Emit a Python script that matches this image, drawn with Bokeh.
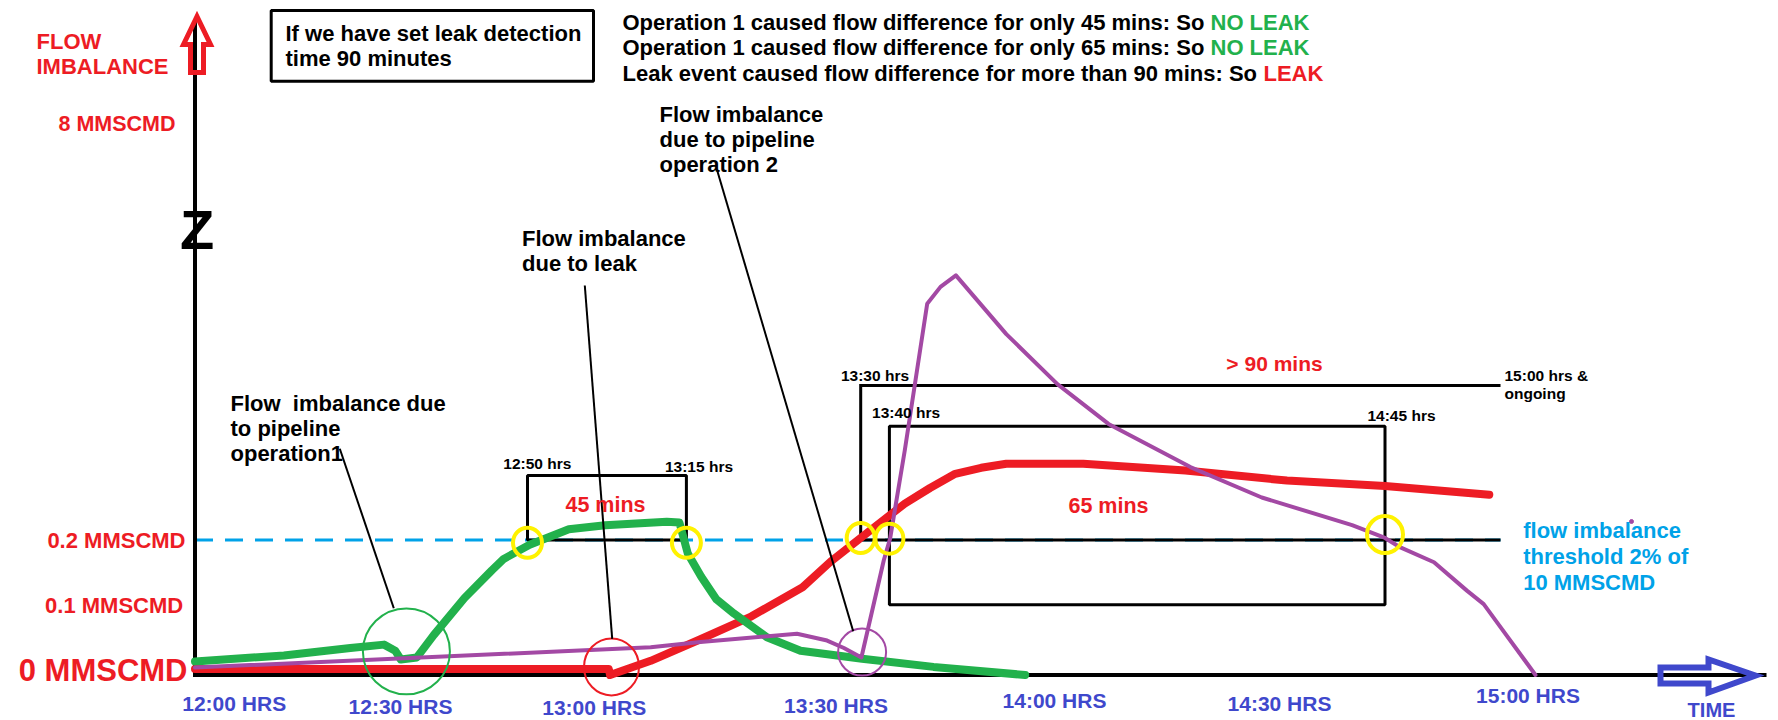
from bokeh.plotting import figure
from bokeh.models import Range1d
from bokeh.core.properties import value
from bokeh.embed import file_html
from bokeh.resources import INLINE

# ------------------------------------------------------------------
# DATA (time in minutes after 12:00, flow imbalance in MMSCMD)
# ------------------------------------------------------------------
green_t = [0, 12.7, 22.2, 27.0, 28.6, 29.4, 31.7, 34.1, 38.5, 42.4, 44.1, 47.8,
           53.4, 58.6, 67.4, 69.2, 70.4, 72.3, 74.5, 77.0, 81.7, 86.5, 95.3,
           105.5, 118.6]
green_v = [0.020, 0.029, 0.040, 0.045, 0.036, 0.023, 0.026, 0.059, 0.114, 0.155,
           0.172, 0.193, 0.216, 0.222, 0.227, 0.226, 0.180, 0.146, 0.112, 0.091,
           0.056, 0.036, 0.024, 0.012, 0.0]

red_t = [0, 30, 59.1, 59.3, 65.1, 72.2, 79.5, 86.8, 90.8, 95.2, 101.4, 105.0,
         108.6, 112.3, 115.9, 126.9, 141.5, 156.0, 170.0, 184.9]
red_v = [0.009, 0.009, 0.009, 0.0, 0.021, 0.053, 0.087, 0.130, 0.168, 0.204,
         0.254, 0.277, 0.298, 0.307, 0.313, 0.313, 0.303, 0.288, 0.280, 0.267]

purple_t = [0, 65.1, 72.2, 86.0, 90.3, 92.7, 95.2, 98.4, 99.3, 101.4, 104.6,
            106.5, 108.7, 115.9, 123.2, 130.5, 142.2, 152.4, 165.3, 170.0,
            172.2, 177.0, 181.7, 184.1, 186.5, 191.5]
purple_v = [0.011, 0.041, 0.049, 0.061, 0.051, 0.040, 0.026, 0.170, 0.202,
            0.333, 0.550, 0.575, 0.592, 0.505, 0.431, 0.372, 0.308, 0.263,
            0.222, 0.203, 0.189, 0.167, 0.125, 0.105, 0.071, 0.0]

threshold = 0.2

x_tick_labels = ["12:00 HRS", "12:30 HRS", "13:00 HRS", "13:30 HRS",
                 "14:00 HRS", "14:30 HRS", "15:00 HRS"]
y_tick_labels = ["0 MMSCMD", "0.1 MMSCMD", "0.2 MMSCMD", "8 MMSCMD"]

# threshold crossings (yellow circles)
cross_t = [47.5, 70.2, 95.1, 99.2, 170.0]
cross_v = [0.196, 0.196, 0.203, 0.202, 0.208]

# duration boxes (start, end in minutes)
box45_t = [47.5, 70.2]
box65_t = [99.2, 170.0]
box90_t = [95.1, 186.5]

# event markers (start of each event)
event_t = [30.2, 59.5, 95.3]
event_v = [0.035, 0.012, 0.034]

# ------------------------------------------------------------------
# LAYOUT helpers (reference pixel -> data)
# ------------------------------------------------------------------
X0, Y0, PPM, PPU = 194.5, 674.5, 7.0, 675.0
def fx(px):
    return (px - X0) / PPM
def fy(py):
    return (Y0 - py) / PPU

W, H = 1778, 720
p = figure(width=W, height=H, x_range=Range1d(fx(0), fx(W)),
           y_range=Range1d(fy(H), fy(0)), output_backend="svg",
           toolbar_location=None, min_border=0, x_axis_type=None,
           y_axis_type=None, background_fill_color="white",
           border_fill_color="white")
p.outline_line_color = None
p.grid.grid_line_color = None

FONT = value("Liberation Sans")
RED = "#ed1c24"
GREEN = "#22b14c"
PURPLE = "#a349a4"
INDIGO = "#3f48cc"
CYAN = "#00a2e8"
YELLOW = "#fff200"

def txt(px, py, s, size, color, align="left"):
    p.text(x=[fx(px)], y=[fy(py)], text=[s], text_font=FONT,
           text_font_size=f"{size}px", text_font_style="bold",
           text_color=color, text_align=align, text_baseline="middle")

# threshold line
p.line([0, box90_t[1]], [threshold, threshold], line_color=CYAN,
       line_width=3, line_dash="18 12")

# boxes
p.quad(left=[box45_t[0]], right=[box45_t[1]], bottom=[threshold], top=[fy(475)],
       fill_alpha=0, line_color="black", line_width=3)
p.quad(left=[box65_t[0]], right=[box65_t[1]], bottom=[fy(604.3)], top=[fy(425.7)],
       fill_alpha=0, line_color="black", line_width=3)
p.line([box90_t[1], box90_t[0], box90_t[0], box90_t[1]],
       [fy(385), fy(385), threshold, threshold], line_color="black",
       line_width=3, line_join="miter")

# axes
p.line([0, 0], [fy(21), fy(676.5)], line_color="black", line_width=4)
p.line([fx(192.5), fx(1766)], [0, 0], line_color="black", line_width=4)

# arrows
p.patch([fx(v) for v in [190, 190, 183, 196.5, 210, 203, 203]],
        [fy(v) for v in [72, 44, 44, 16, 44, 44, 72]],
        fill_alpha=0, line_color=RED, line_width=5, line_join="miter")
p.patch([fx(v) for v in [1660, 1708, 1708, 1755, 1708, 1708, 1660]],
        [fy(v) for v in [667, 667, 659, 675, 692, 683, 683]],
        fill_alpha=0, line_color=INDIGO, line_width=6, line_join="miter")

# curves
p.line(red_t, red_v, line_color=RED, line_width=8, line_cap="round", line_join="round")
p.line(green_t, green_v, line_color=GREEN, line_width=8, line_cap="round", line_join="round")
p.line(purple_t, purple_v, line_color=PURPLE, line_width=4, line_cap="round", line_join="round")

# crossing circles
p.ellipse(x=cross_t, y=cross_v, width=[29, 29, 28, 28, 36], height=[30, 30, 30, 30, 37],
          width_units="screen", height_units="screen", fill_alpha=0,
          line_color=YELLOW, line_width=4)

# event circles
p.ellipse(x=event_t, y=event_v, width=[87, 55, 48], height=[86, 57, 47],
          width_units="screen", height_units="screen", fill_alpha=0,
          line_color=[GREEN, RED, PURPLE], line_width=2)

# pointer lines
p.segment(x0=[fx(339.3), fx(584.3), fx(717)], y0=[fy(448.3), fy(285), fy(171)],
          x1=[fx(393.3), fx(611.7), fx(852.7)], y1=[fy(607.7), fy(638.3), fy(630.7)],
          line_color="black", line_width=2)

# stray dot
p.scatter([fx(1631)], [fy(521)], size=4, color=PURPLE)

# y labels
txt(36, 40.7, "FLOW", 22, RED)
txt(36, 65.7, "IMBALANCE", 22, RED)
txt(175, 123.3, y_tick_labels[3], 21.5, RED, "right")
txt(185, 540, y_tick_labels[2], 22, RED, "right")
txt(182.7, 605, y_tick_labels[1], 22, RED, "right")
txt(187, 670, y_tick_labels[0], 31, RED, "right")
txt(196.5, 229, "Z", 56, "black", "center")

# x labels
tick_px = [(233.7, 703), (400, 706), (593.7, 707), (835.5, 705),
           (1054, 700), (1279, 703), (1527.5, 695)]
for (tx, ty), lab in zip(tick_px, x_tick_labels):
    txt(tx, ty, lab, 21, INDIGO, "center")
txt(1711, 709, "TIME", 20, INDIGO, "center")

# info box
p.quad(left=[fx(270.7)], right=[fx(593)], top=[fy(10)], bottom=[fy(80.7)],
       fill_alpha=0, line_color="black", line_width=3)
txt(285, 33.3, "If we have set leak detection", 22, "black")
txt(285, 58.3, "time 90 minutes", 22, "black")

# conclusions
txt(622, 21.7, "Operation 1 caused flow difference for only 45 mins: So ", 22, "black")
txt(1210, 21.7, "NO LEAK", 22, GREEN)
txt(622, 46.7, "Operation 1 caused flow difference for only 65 mins: So ", 22, "black")
txt(1210, 46.7, "NO LEAK", 22, GREEN)
txt(622, 72.7, "Leak event caused flow difference for more than 90 mins: So ", 22, "black")
txt(1263, 72.7, "LEAK", 22, RED)

# annotations
txt(230, 403, "Flow\u00a0 imbalance due", 22, "black")
txt(230, 428, "to pipeline", 22, "black")
txt(230, 453, "operation1", 22, "black")
txt(521.5, 238, "Flow imbalance", 22, "black")
txt(521.5, 263, "due to leak", 22, "black")
txt(659, 114, "Flow imbalance", 22, "black")
txt(659, 139, "due to pipeline", 22, "black")
txt(659, 164, "operation 2", 22, "black")

# time stamps
txt(536.8, 463, "12:50 hrs", 15.5, "black", "center")
txt(698.5, 465.7, "13:15 hrs", 15.5, "black", "center")
txt(874.5, 375, "13:30 hrs", 15.5, "black", "center")
txt(905.6, 412, "13:40 hrs", 15.5, "black", "center")
txt(1401, 415, "14:45 hrs", 15.5, "black", "center")
txt(1504, 375, "15:00 hrs &", 15.5, "black")
txt(1504, 393.3, "ongoing", 15.5, "black")

# durations
txt(605, 504, "45 mins", 21.5, RED, "center")
txt(1274, 363, "> 90 mins", 21, RED, "center")
txt(1108, 505, "65 mins", 21.5, RED, "center")

# threshold note
txt(1522.7, 530, "flow imbalance", 22, CYAN)
txt(1522.7, 556, "threshold 2% of", 22, CYAN)
txt(1522.7, 581.7, "10 MMSCMD", 22, CYAN)

open("out.html", "w").write(file_html(p, INLINE))
